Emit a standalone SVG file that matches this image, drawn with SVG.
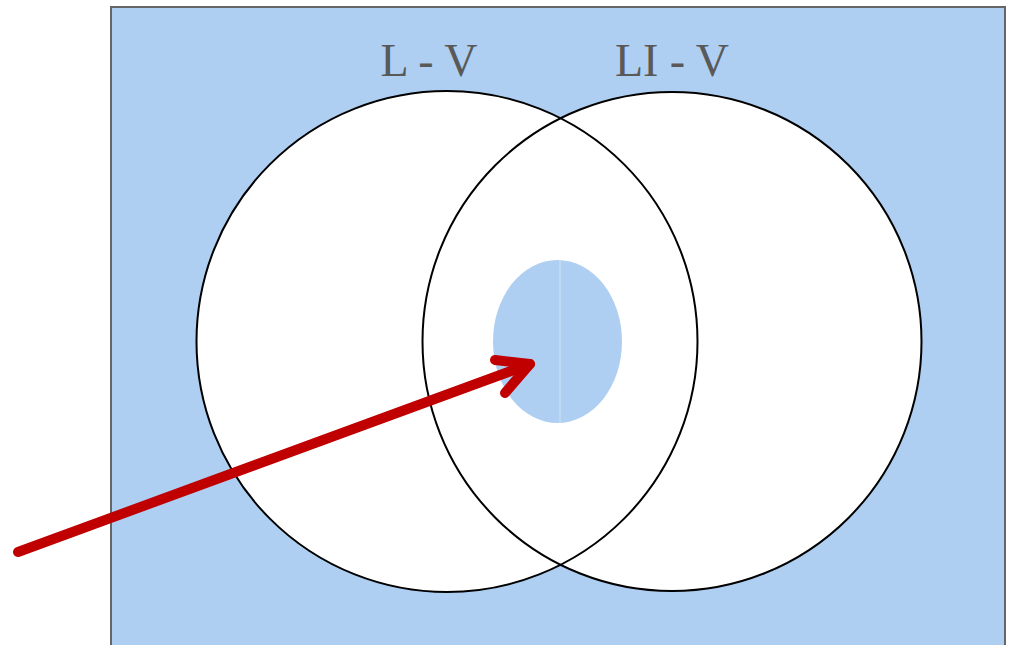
<svg xmlns="http://www.w3.org/2000/svg" width="1011" height="645" viewBox="0 0 1011 645">
<style>
.lbl{font-family:"Liberation Serif",serif;font-size:46px;fill:#595959}
.fillw{fill:#ffffff;stroke:none}
.ring{fill:none;stroke:#000;stroke-width:2}
.arrow{stroke:#C00000;stroke-width:10;fill:none;stroke-linecap:round;stroke-linejoin:round}
</style>
<rect width="1011" height="645" fill="#ffffff"/>
<g id="frame"><rect x="111" y="7" width="894" height="650" fill="#AECFF1" stroke="#666" stroke-width="2"/></g>
<g id="fills"><circle class="fillw" cx="447" cy="341.5" r="250.5"/><circle class="fillw" cx="672" cy="341.5" r="249.5"/></g>
<g id="circleL"><circle class="ring" cx="447" cy="341.5" r="250.5"/></g>
<g id="circleR"><circle class="ring" cx="672" cy="341.5" r="249.5"/></g>
<g id="labelL"><text class="lbl" x="429" y="76" text-anchor="middle">L - V</text></g>
<g id="labelR"><text class="lbl" x="672" y="76" text-anchor="middle">LI - V</text></g>
<g id="core"><ellipse cx="557.5" cy="341.5" rx="64.5" ry="81.5" fill="#AECFF1"/><line x1="560" y1="260" x2="560" y2="423" stroke="#c3dcf3" stroke-width="1.5"/></g>
<g id="connectors"><line class="arrow" x1="18" y1="552" x2="530" y2="364"/><polyline class="arrow" points="495,360 530,364 505,393"/></g>
</svg>
